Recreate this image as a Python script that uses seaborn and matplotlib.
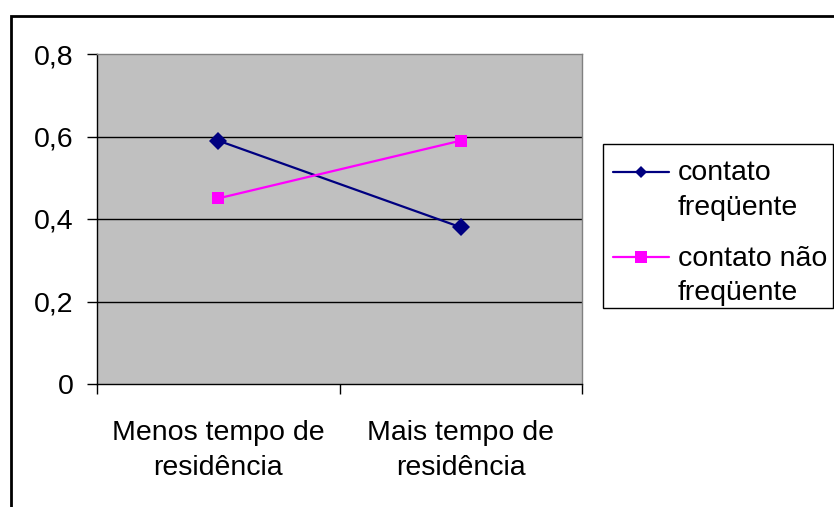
import matplotlib
matplotlib.use("Agg")
import matplotlib.pyplot as plt
from matplotlib.patches import Rectangle
from matplotlib.ticker import FixedLocator
from matplotlib.legend_handler import HandlerLine2D
import seaborn as sns
import pandas as pd

categories = ["Menos tempo de\nresidência", "Mais tempo de\nresidência"]
series_names = ["contato\nfreqüente", "contato não\nfreqüente"]
freq_values = [0.59, 0.38]
nao_freq_values = [0.45, 0.59]
y_ticks = [0, 0.2, 0.4, 0.6, 0.8]
y_tick_labels = ["0", "0,2", "0,4", "0,6", "0,8"]

df = pd.DataFrame({
    "pos": [0, 1, 0, 1],
    "valor": freq_values + nao_freq_values,
    "serie": [series_names[0]] * 2 + [series_names[1]] * 2,
})

FS = 20.5
W, H = 834, 507

sns.set_style("white")
plt.rcParams["font.family"] = ["Liberation Sans", "DejaVu Sans"]
plt.rcParams["text.color"] = "black"
plt.rcParams["xtick.color"] = "black"
plt.rcParams["ytick.color"] = "black"

fig = plt.figure(figsize=(W / 100, H / 100), dpi=100)
ax = fig.add_axes([97 / W, 1 - 384 / H, 485 / W, 330 / H])
ax.set_facecolor("#C0C0C0")

palette = {series_names[0]: "#000080", series_names[1]: "#FF00FF"}
markers = {series_names[0]: "D", series_names[1]: "s"}
sns.lineplot(data=df, x="pos", y="valor", hue="serie", style="serie",
             palette=palette, markers=markers, dashes=False,
             markersize=9, linewidth=1.6, markeredgewidth=0, ax=ax,
             legend=True)

# per-series marker sizes
sizes = {"D": 9.5, "s": 8.6}
for ln in ax.lines:
    m = ln.get_marker()
    if m in sizes:
        ln.set_markersize(sizes[m])

ax.set_xlim(-0.5, 1.5)
ax.set_ylim(0, 0.8)
ax.set_xlabel("")
ax.set_ylabel("")

# horizontal gridlines
for v in y_ticks[1:-1]:
    ax.axhline(v, color="black", linewidth=1, zorder=0.5)

ax.set_yticks(y_ticks)
ax.set_yticklabels(y_tick_labels, fontsize=FS, color="black")
ax.xaxis.set_major_locator(FixedLocator([-0.5, 0.5, 1.5]))
ax.xaxis.set_major_formatter(plt.NullFormatter())
ax.xaxis.set_minor_locator(FixedLocator([0, 1]))
ax.set_xticklabels(categories, minor=True, fontsize=FS, linespacing=1.45,
                   color="black")
ax.tick_params(axis="x", which="major", direction="out", length=7, width=1,
               color="black", bottom=True)
ax.tick_params(axis="x", which="minor", length=0, pad=26)
ax.tick_params(axis="y", direction="out", length=7, width=1, color="black",
               left=True, pad=10, labelsize=FS)

for side in ["left", "bottom"]:
    ax.spines[side].set_color("black")
    ax.spines[side].set_linewidth(1)
for side in ["top", "right"]:
    ax.spines[side].set_color("#808080")
    ax.spines[side].set_linewidth(1)


class FirstLineHandler(HandlerLine2D):
    """Line handle aligned with the first line of a two-line label."""

    def __init__(self, shift, **kw):
        super().__init__(**kw)
        self.shift = shift

    def create_artists(self, legend, orig_handle, xdescent, ydescent,
                       width, height, fontsize, trans):
        artists = super().create_artists(legend, orig_handle, xdescent,
                                         ydescent, width, height, fontsize,
                                         trans)
        for a in artists:
            a.set_ydata([y + self.shift for y in a.get_ydata()])
        return artists


handles, labels = ax.get_legend_handles_labels()
ax.legend_.remove()
leg_sizes = [6.5, 8.6]
for h, s in zip(handles, leg_sizes):
    h.set_markersize(s)
    h.set_linewidth(1.6)

# legend frame
fig.patches.append(Rectangle((603 / W, 1 - 308 / H), 230 / W, 164 / H,
                             transform=fig.transFigure, facecolor="white",
                             edgecolor="black", linewidth=1, zorder=1))

leg = fig.legend(handles, labels, loc="upper left",
                 bbox_to_anchor=(613 / W, 1 - 160 / H),
                 frameon=False, fontsize=FS,
                 handlelength=1.95, handletextpad=0.32, borderpad=0,
                 labelspacing=0.88, borderaxespad=0,
                 handler_map={h: FirstLineHandler(13.5) for h in handles})
leg.set_zorder(2)
for t in leg.get_texts():
    t.set_linespacing(1.43)
    t.set_color("black")

# chart area border
fig.patches.append(Rectangle((11 / W, -0.1), 1.0, 1 - 16 / H + 0.1,
                             transform=fig.transFigure, fill=False,
                             edgecolor="black", linewidth=2))

fig.savefig("out.png", dpi=100, facecolor="white")
